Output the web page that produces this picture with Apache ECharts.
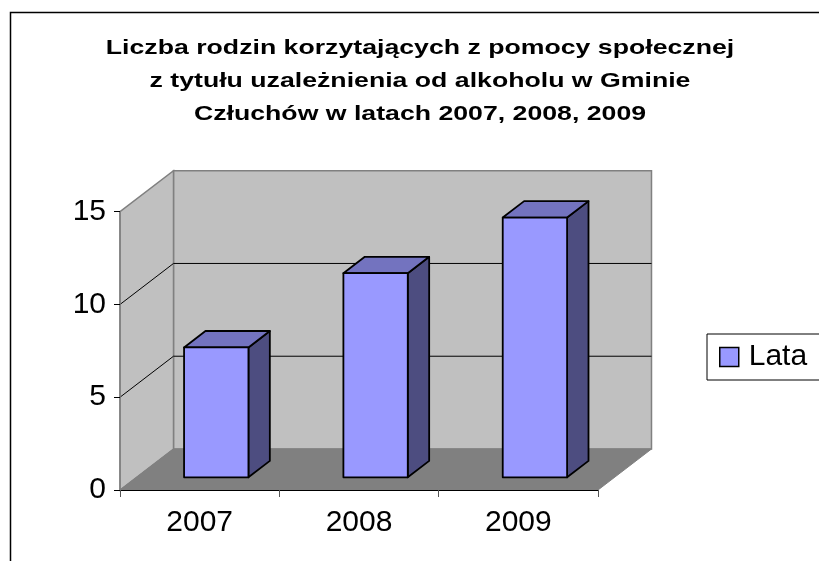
<!DOCTYPE html>
<html>
<head>
<meta charset="utf-8">
<script src="https://cdn.jsdelivr.net/npm/echarts@6/dist/echarts.min.js"></script>
<style>
html,body{margin:0;padding:0;background:#fff;}
#chart{width:819px;height:561px;}
</style>
</head>
<body>
<div id="chart"></div>
<script>
// ---- data ----
const CATEGORIES = ['2007', '2008', '2009'];
const VALUES = [7, 11, 14];
const SERIES_NAME = 'Lata';
const Y_MIN = 0, Y_MAX = 15, Y_STEP = 5;
const TITLE_LINES = [
  'Liczba rodzin korzytających z pomocy społecznej',
  'z tytułu uzależnienia od alkoholu w Gminie',
  'Człuchów w latach 2007, 2008, 2009'
];

// ---- style / layout constants ----
const DX = 53.5, DY = -41;      // depth vector of the 3D box
const F1 = 0.31, F2 = 0.71;     // bar front/back depth fraction
const BAR_RATIO = 0.404;
const FONT = '"Liberation Sans", Arial, sans-serif';

const chart = echarts.init(document.getElementById('chart'), null, {renderer: 'canvas'});

function renderWalls(params, api) {
  const cs = params.coordSys;
  const xl = cs.x, xr = cs.x + cs.width, yt = cs.y, yb = cs.y + cs.height;
  const children = [];
  // back wall
  children.push({type: 'polygon', shape: {points: [[xl + DX, yt + DY], [xr + DX, yt + DY], [xr + DX, yb + DY], [xl + DX, yb + DY]]},
    style: {fill: '#c0c0c0', stroke: '#808080', lineWidth: 1.5}});
  // side wall
  children.push({type: 'polygon', shape: {points: [[xl, yb], [xl, yt], [xl + DX, yt + DY], [xl + DX, yb + DY]]},
    style: {fill: '#c0c0c0', stroke: '#808080', lineWidth: 1.5}});
  // floor
  children.push({type: 'polygon', shape: {points: [[xl, yb], [xr, yb], [xr + DX, yb + DY], [xl + DX, yb + DY]]},
    style: {fill: '#808080', stroke: '#808080', lineWidth: 1}});
  // gridlines
  for (let v = Y_MIN + Y_STEP; v < Y_MAX; v += Y_STEP) {
    const y = api.coord([0, v])[1];
    children.push({type: 'polyline', shape: {points: [[xl, y], [xl + DX, y + DY], [xr + DX, y + DY]]},
      style: {fill: 'none', stroke: '#000', lineWidth: 1}});
  }
  return {type: 'group', children: children};
}

function renderBar(params, api) {
  const cat = api.value(0), v = api.value(1);
  const base = api.coord([cat, 0]);
  const top = api.coord([cat, v]);
  const bw = api.size([1, 0])[0] * BAR_RATIO;
  const ox = F1 * DX, oy = F1 * DY;
  const ddx = (F2 - F1) * DX, ddy = (F2 - F1) * DY;
  const x0 = base[0] - bw / 2 + ox, x1 = x0 + bw;
  const yb = base[1] + oy, yt = top[1] + oy;
  const st = {stroke: '#000', lineWidth: 1.8, lineJoin: 'round'};
  return {type: 'group', children: [
    {type: 'polygon', shape: {points: [[x1, yb], [x1 + ddx, yb + ddy], [x1 + ddx, yt + ddy], [x1, yt]]},
      style: Object.assign({fill: '#4d4d80'}, st)},
    {type: 'polygon', shape: {points: [[x0, yt], [x1, yt], [x1 + ddx, yt + ddy], [x0 + ddx, yt + ddy]]},
      style: Object.assign({fill: '#7373bf'}, st)},
    {type: 'polygon', shape: {points: [[x0, yb], [x1, yb], [x1, yt], [x0, yt]]},
      style: Object.assign({fill: '#9999ff'}, st)}
  ]};
}

const option = {
  animation: false,
  backgroundColor: '#fff',
  grid: {left: 120, right: 221, top: 211.7, bottom: 71, containLabel: false},
  xAxis: {
    type: 'category', data: CATEGORIES, boundaryGap: true, z: 5,
    axisLine: {show: true, lineStyle: {color: '#000', width: 1}},
    axisTick: {show: true, length: 7, lineStyle: {color: '#555'}},
    axisLabel: {fontSize: 30, fontFamily: FONT, color: '#000', margin: 18},
    splitLine: {show: false}
  },
  yAxis: {
    type: 'value', min: Y_MIN, max: Y_MAX, interval: Y_STEP, z: 5,
    axisLine: {show: true, lineStyle: {color: '#808080', width: 1.5}},
    axisTick: {show: true, length: 6, lineStyle: {color: '#000'}},
    axisLabel: {fontSize: 30, fontFamily: FONT, color: '#000', margin: 14},
    splitLine: {show: false}
  },
  legend: {
    data: [{name: SERIES_NAME, icon: 'rect', itemStyle: {color: '#9999ff', borderColor: '#000', borderWidth: 1.5}}],
    left: 707, top: 334, orient: 'vertical',
    padding: [8, 30, 8, 12],
    itemWidth: 19, itemHeight: 19,
    borderColor: '#000', borderWidth: 1, backgroundColor: '#fff',
    selectedMode: false,
    textStyle: {fontSize: 30, fontFamily: FONT, color: '#000', padding: [0, 0, 0, 5]}
  },
  graphic: [
    {type: 'rect', silent: true, shape: {x: 10.5, y: 12.5, width: 900, height: 700},
      style: {fill: 'none', stroke: '#000', lineWidth: 1.5}, z: 0}
  ].concat(TITLE_LINES.map((t, i) => ({
    type: 'text', silent: true, x: 420, y: 48 + i * 33, scaleX: 1.27,
    style: {text: t, font: 'bold 21px ' + FONT, fill: '#000', align: 'center', verticalAlign: 'middle',
      textAlign: 'center', textVerticalAlign: 'middle'}
  }))),
  series: [
    {type: 'custom', silent: true, clip: false, z: 1, renderItem: renderWalls, data: [[0, 0]],
      encode: {x: 0, y: 1}},
    {type: 'custom', name: SERIES_NAME, clip: false, z: 3, renderItem: renderBar,
      itemStyle: {color: '#9999ff', borderColor: '#000', borderWidth: 1.5},
      data: VALUES.map((v, i) => [i, v]), encode: {x: 0, y: 1}}
  ]
};
chart.setOption(option);
</script>
</body>
</html>
